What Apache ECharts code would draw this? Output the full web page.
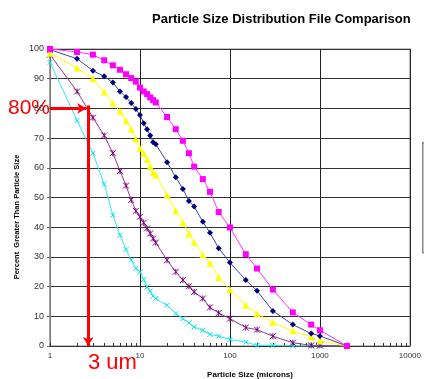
<!DOCTYPE html>
<html>
<head>
<meta charset="utf-8">
<script src="https://cdn.jsdelivr.net/npm/echarts@6/dist/echarts.min.js"></script>
<style>
  html, body { margin: 0; padding: 0; background: #fff; }
  #main { width: 424px; height: 379px; }
</style>
</head>
<body>
<div id="main"></div>
<script>
// particle sizes (microns) shared by every file
var sizes = [1, 2, 3, 4, 5, 6, 7, 8, 9, 10, 11, 12, 13, 14, 15, 20, 25, 30, 35, 40, 50, 60, 75, 100, 150, 200, 300, 500, 800, 1000, 2000];

// percent greater than particle size, one list per file
var fileMagenta = [100, 99.0, 98.1, 96.2, 94.5, 93.0, 91.5, 90.2, 89.0, 87.0, 85.7, 84.8, 83.7, 82.8, 82.0, 77.1, 73.0, 69.1, 64.9, 60.4, 56.2, 51.9, 45.1, 39.9, 30.9, 26.1, 19.0, 11.3, 7.2, 5.3, 0];
var fileNavy = [99.8, 96.7, 92.7, 90.8, 88.7, 85.7, 83.8, 81.8, 79.8, 77.8, 75.0, 73.0, 70.9, 68.6, 67.9, 61.9, 56.8, 52.9, 48.8, 47.0, 41.8, 38.1, 32.9, 28.1, 22.2, 18.6, 11.8, 7.2, 4.2, 3.4, 0];
var fileYellow = [98.6, 93.6, 90.0, 85.5, 81.8, 79.0, 75.8, 73.0, 69.7, 66.6, 64.8, 62.8, 60.4, 58.5, 57.6, 50.8, 45.5, 41.6, 37.8, 34.9, 30.7, 27.9, 23.1, 19.0, 13.7, 10.9, 7.9, 5.1, 3.0, 1.7, 0];
var filePurple = [98.1, 85.7, 76.9, 70.9, 64.9, 58.9, 54.0, 49.2, 45.5, 43.5, 41.5, 39.6, 37.9, 36.2, 34.8, 28.9, 25.0, 22.2, 20.1, 18.2, 16.0, 13.0, 11.1, 9.2, 6.2, 5.5, 3.3, 1.1, 0.2, 0.2, 0];
var fileCyan = [95.5, 75.9, 64.9, 54.5, 44.1, 37.3, 32.5, 28.9, 26.1, 25.0, 22.4, 19.9, 18.5, 16.8, 16.0, 13.7, 10.9, 9.2, 7.8, 6.4, 5.3, 3.9, 3.3, 2.2, 1.3, 0.2, 0.2, 0, 0, 0, 0];

var xTickLabels = ['1', '10', '100', '1000', '10000'];
var yTickLabels = ['0', '10', '20', '30', '40', '50', '60', '70', '80', '90', '100'];

// 80% read-off
var readLevel = 80;
var readSize = 2.66;
var readArrowEnd = 2.53;

function pairs(ys) {
    var out = [];
    for (var i = 0; i < sizes.length; i++) {
        out.push([sizes[i], ys[i]]);
    }
    return out;
}

var myChart = echarts.init(document.getElementById('main'));

var asterisk = 'path://M0,0L10,10M10,0L0,10M5,0L5,10';
var cross = 'path://M0,0L10,10M10,0L0,10';

var option = {
    animation: false,
    title: {
        text: 'Particle Size Distribution File Comparison',
        left: 147,
        top: 8,
        textStyle: { fontFamily: 'Liberation Sans', fontSize: 13, fontWeight: 'bold', color: '#000' }
    },
    grid: {
        left: 50, right: 12, top: 49, bottom: 33,
        show: true, borderColor: '#c4c4c4', borderWidth: 2, backgroundColor: '#fff'
    },
    xAxis: {
        type: 'log',
        logBase: 10,
        min: 1,
        max: 10000,
        axisLine: { show: true, lineStyle: { color: '#333', width: 1 } },
        axisTick: { show: true, inside: true, length: 3, lineStyle: { color: '#333' } },
        minorTick: { show: true, splitNumber: 9, length: 3, lineStyle: { color: '#333' } },
        splitLine: { show: true, lineStyle: { color: '#222', width: 1 } },
        axisLabel: {
            fontFamily: 'Liberation Sans', fontSize: 8, color: '#333', margin: 6,
            formatter: function (v) {
                var s = String(Math.round(v));
                return xTickLabels.indexOf(s) >= 0 ? s : '';
            }
        }
    },
    yAxis: {
        type: 'value',
        min: 0,
        max: 100,
        interval: 10,
        axisLine: { show: true, lineStyle: { color: '#999', width: 1.5 } },
        axisTick: { show: true, length: 3, lineStyle: { color: '#666' } },
        splitLine: { show: true, lineStyle: { color: '#333', width: 1 } },
        axisLabel: {
            fontFamily: 'Liberation Sans', fontSize: 9, color: '#333', margin: 6,
            formatter: function (v) { return yTickLabels[Math.round(v / 10)]; }
        }
    },
    series: [
        {
            name: 'cyan', type: 'line', data: pairs(fileCyan),
            symbol: cross, symbolSize: 5,
            lineStyle: { color: '#33e8ee', width: 1 },
            itemStyle: { color: '#00e0e8', borderColor: '#00e0e8', borderWidth: 1 },
            markLine: {
                silent: true,
                symbol: ['none', 'arrow'],
                symbolSize: [8, 9],
                label: { show: false },
                lineStyle: { color: '#ff0000', width: 3, type: 'solid' },
                data: [
                    [{ coord: [1, readLevel] }, { coord: [readArrowEnd, readLevel] }],
                    [{ coord: [readSize, readLevel + 1] }, { coord: [readSize, 0] }]
                ]
            }
        },
        {
            name: 'purple', type: 'line', data: pairs(filePurple),
            symbol: asterisk, symbolSize: 6,
            lineStyle: { color: '#8e3a8e', width: 1 },
            itemStyle: { color: '#800080', borderColor: '#800080', borderWidth: 1 }
        },
        {
            name: 'yellow', type: 'line', data: pairs(fileYellow),
            symbol: 'triangle', symbolSize: 7,
            lineStyle: { color: '#ffff00', width: 1 },
            itemStyle: { color: '#ffff00' }
        },
        {
            name: 'navy', type: 'line', data: pairs(fileNavy),
            symbol: 'diamond', symbolSize: 6,
            lineStyle: { color: '#3a4896', width: 1 },
            itemStyle: { color: '#000080' }
        },
        {
            name: 'magenta', type: 'line', data: pairs(fileMagenta),
            symbol: 'rect', symbolSize: 6,
            lineStyle: { color: '#ff33ff', width: 1 },
            itemStyle: { color: '#ff00ff' }
        }
    ],
    graphic: [
        {
            type: 'text', left: 8, top: 98,
            style: { text: '80%', fill: '#ff0000', fontSize: 21, fontFamily: 'Liberation Sans' }
        },
        {
            type: 'text', left: 88, top: 352,
            style: { text: '3 um', fill: '#ff0000', fontSize: 22, fontFamily: 'Liberation Sans' }
        },
        {
            type: 'text', x: 250, y: 375,
            style: {
                text: 'Particle Size (microns)', fill: '#000', fontSize: 8, fontWeight: 'bold',
                fontFamily: 'Liberation Sans', align: 'center', verticalAlign: 'middle'
            }
        },
        {
            type: 'text', x: 17, y: 217, rotation: Math.PI / 2,
            style: {
                text: 'Percent  Greater Than Particle Size', fill: '#000', fontSize: 7.5, fontWeight: 'bold',
                fontFamily: 'Liberation Sans', align: 'center', verticalAlign: 'middle'
            }
        },
        {
            type: 'rect', left: 422, top: 142,
            shape: { width: 20, height: 110 },
            style: { fill: '#fff', stroke: '#888', lineWidth: 1.5 }
        }
    ]
};

myChart.setOption(option);
</script>
</body>
</html>
